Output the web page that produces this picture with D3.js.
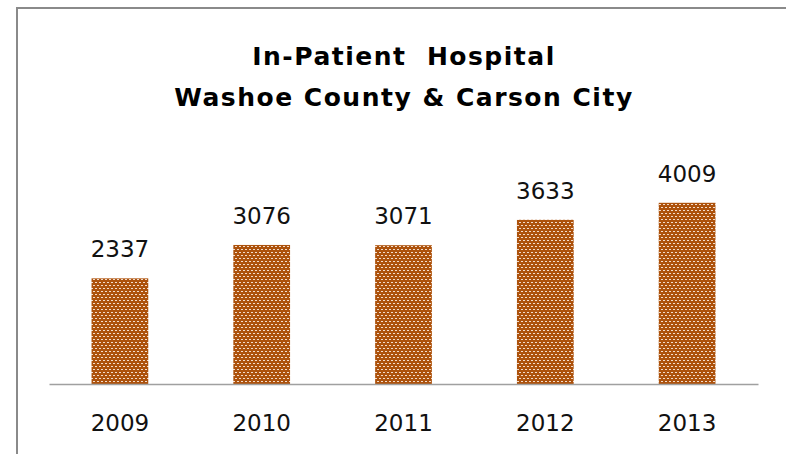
<!DOCTYPE html>
<html>
<head>
<meta charset="utf-8" />
<title>In-Patient Hospital</title>
<style>
body { margin: 0; background: #fff; }
#graph { width: 786px; height: 454px; font-family: "DejaVu Sans", Arial, sans-serif; }
.label { font-family: "DejaVu Sans", Arial, sans-serif; font-size: 23px; fill: #111; }
.title { font-size: 25px; font-weight: bold; fill: #000; letter-spacing: 1.5px; }
</style>
</head>
<body>
<div id="graph"></div>
<script src="https://cdnjs.cloudflare.com/ajax/libs/d3/7.8.5/d3.min.js"></script>
<script>
var years = ["2009", "2010", "2011", "2012", "2013"]
var patients = [2337, 3076, 3071, 3633, 4009]
var titleLines = ["In-Patient  Hospital", "Washoe County & Carson City"]

!(function(){
    "use strict"

    var width = 786, height = 454
    var margin = {top:158, left:49, bottom:70, right:28}
    var chartWidth = width - margin.left - margin.right
    var chartHeight = height - margin.top - margin.bottom

    var svg = d3.select("#graph").append("svg")
        .attr("width", width).attr("height", height)

    // brown woven fill like the original
    var defs = svg.append("defs")
    var pat = defs.append("pattern").attr("id", "weave")
        .attr("patternUnits", "userSpaceOnUse")
        .attr("width", 4).attr("height", 6)
    pat.append("rect").attr("width", 4).attr("height", 6).attr("fill", "#ad520c")
    pat.append("rect").attr("x", 0).attr("y", 1).attr("width", 2).attr("height", 1).attr("fill", "#f3dccb")
    pat.append("rect").attr("x", 2).attr("y", 4).attr("width", 2).attr("height", 1).attr("fill", "#f3dccb")

    // outer frame (top and left visible)
    svg.append("path")
        .attr("d", "M17,454 L17,8 L786,8")
        .attr("fill", "none").attr("stroke", "#8a8a8a").attr("stroke-width", 2)

    svg.selectAll(".title").data(titleLines).enter().append("text")
        .attr("class", "title")
        .attr("x", 404)
        .attr("y", function(d, i){ return 65 + i * 41 })
        .attr("text-anchor", "middle")
        .style("white-space", "pre")
        .text(function(d){ return d })

    var xScale = d3.scaleBand().domain(years).range([0, chartWidth])
        .paddingInner(0.6).paddingOuter(0.3)
    var yScale = d3.scaleLinear().domain([0, 5000]).range([chartHeight, 0])

    var chartLayer = svg.append("g")
        .attr("transform", "translate(" + [margin.left, margin.top] + ")")

    chartLayer.selectAll(".bar").data(patients).enter().append("rect")
        .attr("class", "bar")
        .attr("x", function(d, i){ return xScale(years[i]) })
        .attr("y", function(d){ return yScale(d) })
        .attr("width", xScale.bandwidth())
        .attr("height", function(d){ return chartHeight - yScale(d) })
        .attr("fill", "url(#weave)")

    chartLayer.selectAll(".val").data(patients).enter().append("text")
        .attr("class", "label val")
        .attr("x", function(d, i){ return xScale(years[i]) + xScale.bandwidth() / 2 })
        .attr("y", function(d){ return yScale(d) - 21 })
        .attr("text-anchor", "middle")
        .text(function(d){ return d })

    var xAxis = d3.axisBottom(xScale).tickSize(0).tickPadding(0)
    var ax = chartLayer.append("g")
        .attr("transform", "translate(0," + chartHeight + ")")
        .call(xAxis)
    ax.select(".domain").attr("stroke", "#a0a0a0").attr("stroke-width", 1.5)
    ax.selectAll("text").attr("class", "label").attr("dy", null).attr("y", 47)
        .attr("font-size", null).attr("font-family", null)
}());
</script>
</body>
</html>
